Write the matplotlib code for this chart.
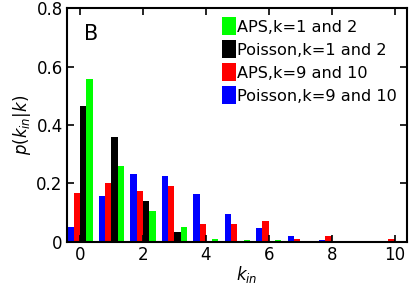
import numpy as np
import matplotlib
matplotlib.use('Agg')
import matplotlib.pyplot as plt
from matplotlib.ticker import FuncFormatter

k_in = np.arange(0, 11)

aps_low = [0.557, 0.258, 0.107, 0.050, 0.011, 0.008, 0.008, 0.004, 0.003, 0.002, 0.001]
poisson_low = [0.466, 0.359, 0.139, 0.035, 0.004, 0.001, 0.0, 0.0, 0.0, 0.0, 0.0]
aps_high = [0.166, 0.200, 0.174, 0.191, 0.060, 0.060, 0.070, 0.009, 0.019, 0.002, 0.009]
poisson_high = [0.052, 0.157, 0.231, 0.225, 0.164, 0.097, 0.046, 0.020, 0.008, 0.002, 0.001]

labels = ['APS,k=1 and 2', 'Poisson,k=1 and 2', 'APS,k=9 and 10', 'Poisson,k=9 and 10']

fig = plt.figure(figsize=(4.15, 2.9), dpi=100)
ax = fig.add_axes([0.161, 0.166, 0.82, 0.806])

w = 0.2
b_green = ax.bar(k_in + 0.2, aps_low, w, align='edge', color='#00ff00', label=labels[0])
b_black = ax.bar(k_in, poisson_low, w, align='edge', color='black', label=labels[1])
b_red = ax.bar(k_in - 0.2, aps_high, w, align='edge', color='#ff0000', label=labels[2])
b_blue = ax.bar(k_in - 0.4, poisson_high, w, align='edge', color='#0000ff', label=labels[3])

ax.set_xlim(-0.42, 10.4)
ax.set_ylim(0, 0.8)
ax.set_xticks(np.arange(0, 11, 2))
ax.set_yticks([0, 0.2, 0.4, 0.6, 0.8])
ax.yaxis.set_major_formatter(FuncFormatter(lambda v, p: '0' if v == 0 else '%.1f' % v))
ax.tick_params(direction='in', top=True, right=True, length=5, width=1.2, labelsize=12, pad=3)
for s in ax.spines.values():
    s.set_linewidth(1.5)

ax.set_xlabel('$k_{in}$', fontsize=12, labelpad=0, x=0.53)
ax.set_ylabel('$p(k_{in}|k)$', fontsize=12, labelpad=2)
ax.text(0.05, 0.93, 'B', transform=ax.transAxes, fontsize=15, va='top')

ax.legend(handles=[b_green, b_black, b_red, b_blue], loc='upper right', frameon=False,
          fontsize=11.6, handlelength=0.88, handleheight=1.35, handletextpad=0.1,
          labelspacing=0.3, borderaxespad=0.1, bbox_to_anchor=(0.995, 0.995))

fig.savefig('out.png', dpi=100)
